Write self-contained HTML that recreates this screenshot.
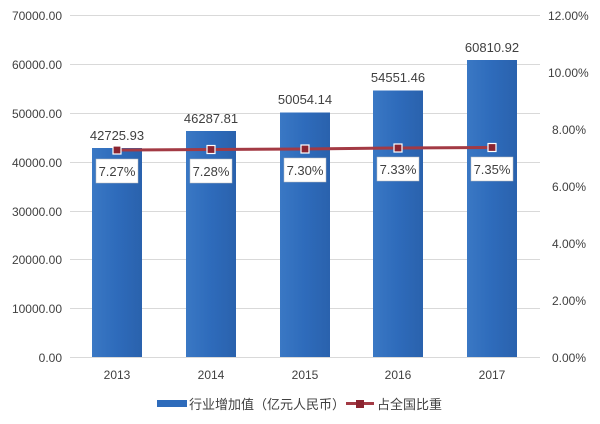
<!DOCTYPE html>
<html><head><meta charset="utf-8"><style>body{margin:0;background:#fff}svg{display:block}text{font-family:"Liberation Sans","Noto Sans CJK SC",sans-serif;fill:#404040}</style></head><body>
<svg width="600" height="424" viewBox="0 0 600 424">
<defs><linearGradient id="g" x1="0" x2="1"><stop offset="0" stop-color="#3a78c4"/><stop offset="0.5" stop-color="#2e6bbb"/><stop offset="1" stop-color="#2a62ad"/></linearGradient></defs>
<g stroke="#d9d9d9" stroke-width="1">
<line x1="70" y1="15.5" x2="540" y2="15.5"/><line x1="70" y1="64.5" x2="540" y2="64.5"/><line x1="70" y1="113.5" x2="540" y2="113.5"/><line x1="70" y1="162.5" x2="540" y2="162.5"/><line x1="70" y1="211.5" x2="540" y2="211.5"/><line x1="70" y1="259.5" x2="540" y2="259.5"/><line x1="70" y1="308.5" x2="540" y2="308.5"/><line x1="70" y1="357.5" x2="540" y2="357.5"/></g>
<g font-size="12" text-anchor="end">
<text x="62" y="20">70000.00</text><text x="62" y="69">60000.00</text><text x="62" y="118">50000.00</text><text x="62" y="167">40000.00</text><text x="62" y="216">30000.00</text><text x="62" y="264">20000.00</text><text x="62" y="313">10000.00</text><text x="62" y="362">0.00</text></g>
<g font-size="12" text-anchor="start">
<text x="548" y="20">12.00%</text><text x="548" y="77">10.00%</text><text x="552" y="134">8.00%</text><text x="552" y="191">6.00%</text><text x="552" y="248">4.00%</text><text x="552" y="305">2.00%</text><text x="552" y="362">0.00%</text></g>
<g fill="url(#g)">
<rect x="92" y="148" width="50" height="209"/><rect x="186" y="131" width="50" height="226"/><rect x="280" y="112.5" width="50" height="244.5"/><rect x="373" y="90.5" width="50" height="266.5"/><rect x="467" y="60" width="50" height="297"/></g>
<g font-size="13" text-anchor="middle">
<text x="117" y="140">42725.93</text><text x="211" y="123">46287.81</text><text x="305" y="104">50054.14</text><text x="398" y="82">54551.46</text><text x="492" y="52">60810.92</text></g>
<polyline points="117,150 211,149.5 305,149 398,148 492,147.5" fill="none" stroke="#a33a44" stroke-width="3"/>
<g fill="#8b2430" stroke="#fff" stroke-width="1.2">
<rect x="113" y="146" width="8" height="8"/><rect x="207" y="145.5" width="8" height="8"/><rect x="301" y="145" width="8" height="8"/><rect x="394" y="144" width="8" height="8"/><rect x="488" y="143.5" width="8" height="8"/></g>
<g fill="#fff" stroke="#bbb" stroke-width="0.5">
<rect x="96" y="159" width="42" height="24"/><rect x="190" y="159" width="42" height="24"/><rect x="284" y="158" width="42" height="24"/><rect x="377" y="157" width="42" height="24"/><rect x="471" y="157" width="42" height="24"/></g>
<g font-size="13" text-anchor="middle">
<text x="117" y="176">7.27%</text><text x="211" y="176">7.28%</text><text x="305" y="175">7.30%</text><text x="398" y="174">7.33%</text><text x="492" y="174">7.35%</text></g>
<g font-size="12" text-anchor="middle">
<text x="117" y="379">2013</text><text x="211" y="379">2014</text><text x="305" y="379">2015</text><text x="398" y="379">2016</text><text x="492" y="379">2017</text></g>
<rect x="157" y="400" width="30" height="7" fill="#2e6bbb"/>
<text x="189" y="409" font-size="13">行业增加值（亿元人民币）</text>
<line x1="346" y1="403.5" x2="374" y2="403.5" stroke="#a33a44" stroke-width="3"/>
<rect x="356" y="400" width="8" height="8" fill="#8b2430"/>
<text x="377" y="409" font-size="13">占全国比重</text>
</svg>
</body></html>
